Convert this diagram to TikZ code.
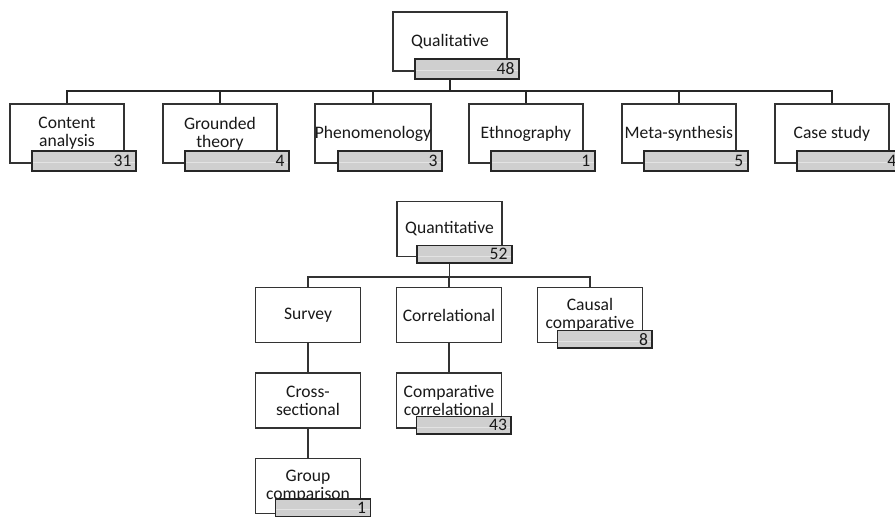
\documentclass[tikz,border=0pt]{standalone}
\usepackage{fontspec}
\setmainfont{Carlito}

\tikzset{
  box/.style={draw=black!80, line width=0.9pt, fill=white, inner xsep=0pt, inner ysep=1pt,
    align=center, text=black!90, font=\fontsize{10}{10.2}\selectfont},
  bigbox/.style={box, minimum width=2.28cm, minimum height=1.18cm},
  smallbox/.style={box, minimum width=2.10cm, minimum height=1.10cm},
  count/.style={draw=black!85, line width=1pt, fill=black!19, inner xsep=2.5pt, inner ysep=0pt,
    align=right, text=black!90, font=\fontsize{10}{10}\selectfont,
    path picture={\draw[black!11, line width=0.6pt]
      ([yshift=-1pt]path picture bounding box.west) -- ([yshift=-1pt]path picture bounding box.east);}},
  bigcount/.style={count, text width=1.90cm, minimum height=0.40cm},
  smallcount/.style={count, text width=1.72cm, minimum height=0.35cm},
  topline/.style={draw=black!85, line width=1.1pt},
  subline/.style={draw=black!80, line width=0.8pt}
}

\begin{document}
\begin{tikzpicture}[x=0.02cm, y=-0.02cm]

\useasboundingbox (0,0) rectangle (895,517);
\clip (0,0) rectangle (895,517);

% qualitative
\node[bigbox] (qual) at (450,41.5) {Qualitative};
\node[bigcount] (qualn) at ([xshift=0.34cm, yshift=0.06cm]qual.south) {48};

\begin{scope}[node distance=3.06cm]
\node[bigbox] (content) at (67,133.5) {Content\\analysis};
\node[bigbox, right of=content] (grounded) {Grounded\\theory};
\node[bigbox, right of=grounded] (pheno) {Phenomenology};
\node[bigbox, right of=pheno] (ethno) {Ethnography};
\node[bigbox, right of=ethno] (meta) {Meta-synthesis};
\node[bigbox, right of=meta] (case) {Case study};
\end{scope}

\node[bigcount] (contentn) at ([xshift=0.34cm, yshift=0.06cm]content.south) {31};
\node[bigcount] (groundedn) at ([xshift=0.34cm, yshift=0.06cm]grounded.south) {4};
\node[bigcount] (phenon) at ([xshift=0.34cm, yshift=0.06cm]pheno.south) {3};
\node[bigcount] (ethnon) at ([xshift=0.34cm, yshift=0.06cm]ethno.south) {1};
\node[bigcount] (metan) at ([xshift=0.34cm, yshift=0.06cm]meta.south) {5};
\node[bigcount] (casen) at ([xshift=0.34cm, yshift=0.06cm]case.south) {4};

\coordinate (qualbus) at (0,91);
\draw[topline] (qualn.south -| qual.south) |- (qualbus -| content.north) -- (content.north);
\draw[topline] (qualn.south -| qual.south) |- (qualbus -| grounded.north) -- (grounded.north);
\draw[topline] (qualn.south -| qual.south) |- (qualbus -| pheno.north) -- (pheno.north);
\draw[topline] (qualn.south -| qual.south) |- (qualbus -| ethno.north) -- (ethno.north);
\draw[topline] (qualn.south -| qual.south) |- (qualbus -| meta.north) -- (meta.north);
\draw[topline] (qualn.south -| qual.south) |- (qualbus -| case.north) -- (case.north);

% quantitative
\node[smallbox] (quant) at (449.5,229) {Quantitative};
\node[smallcount] (quantn) at ([xshift=0.30cm, yshift=0.06cm]quant.south) {52};

\begin{scope}[node distance=2.82cm]
\node[smallbox] (survey) at (308,315) {Survey};
\node[smallbox, right of=survey] (correl) {Correlational};
\node[smallbox, right of=correl] (causal) {Causal\\comparative};
\end{scope}

\begin{scope}[node distance=1.71cm]
\node[smallbox, below of=survey] (cross) {Cross-\\sectional};
\node[smallbox, below of=cross] (group) {Group\\comparison};
\node[smallbox, below of=correl] (compcor) {Comparative\\correlational};
\end{scope}

\node[smallcount] (causaln) at ([xshift=0.30cm, yshift=0.08cm]causal.south) {8};
\node[smallcount] (compcorn) at ([xshift=0.30cm, yshift=0.07cm]compcor.south) {43};
\node[smallcount] (groupn) at ([xshift=0.30cm, yshift=0.13cm]group.south) {1};

\coordinate (quantbus) at (0,277);
\draw[subline] (quantn.south -| quant.south) |- (quantbus -| survey.north) -- (survey.north);
\draw[subline] (quantn.south -| quant.south) |- (quantbus -| correl.north) -- (correl.north);
\draw[subline] (quantn.south -| quant.south) |- (quantbus -| causal.north) -- (causal.north);
\draw[subline] (survey) -- (cross);
\draw[subline] (cross) -- (group);
\draw[subline] (correl) -- (compcor);

\end{tikzpicture}
\end{document}
